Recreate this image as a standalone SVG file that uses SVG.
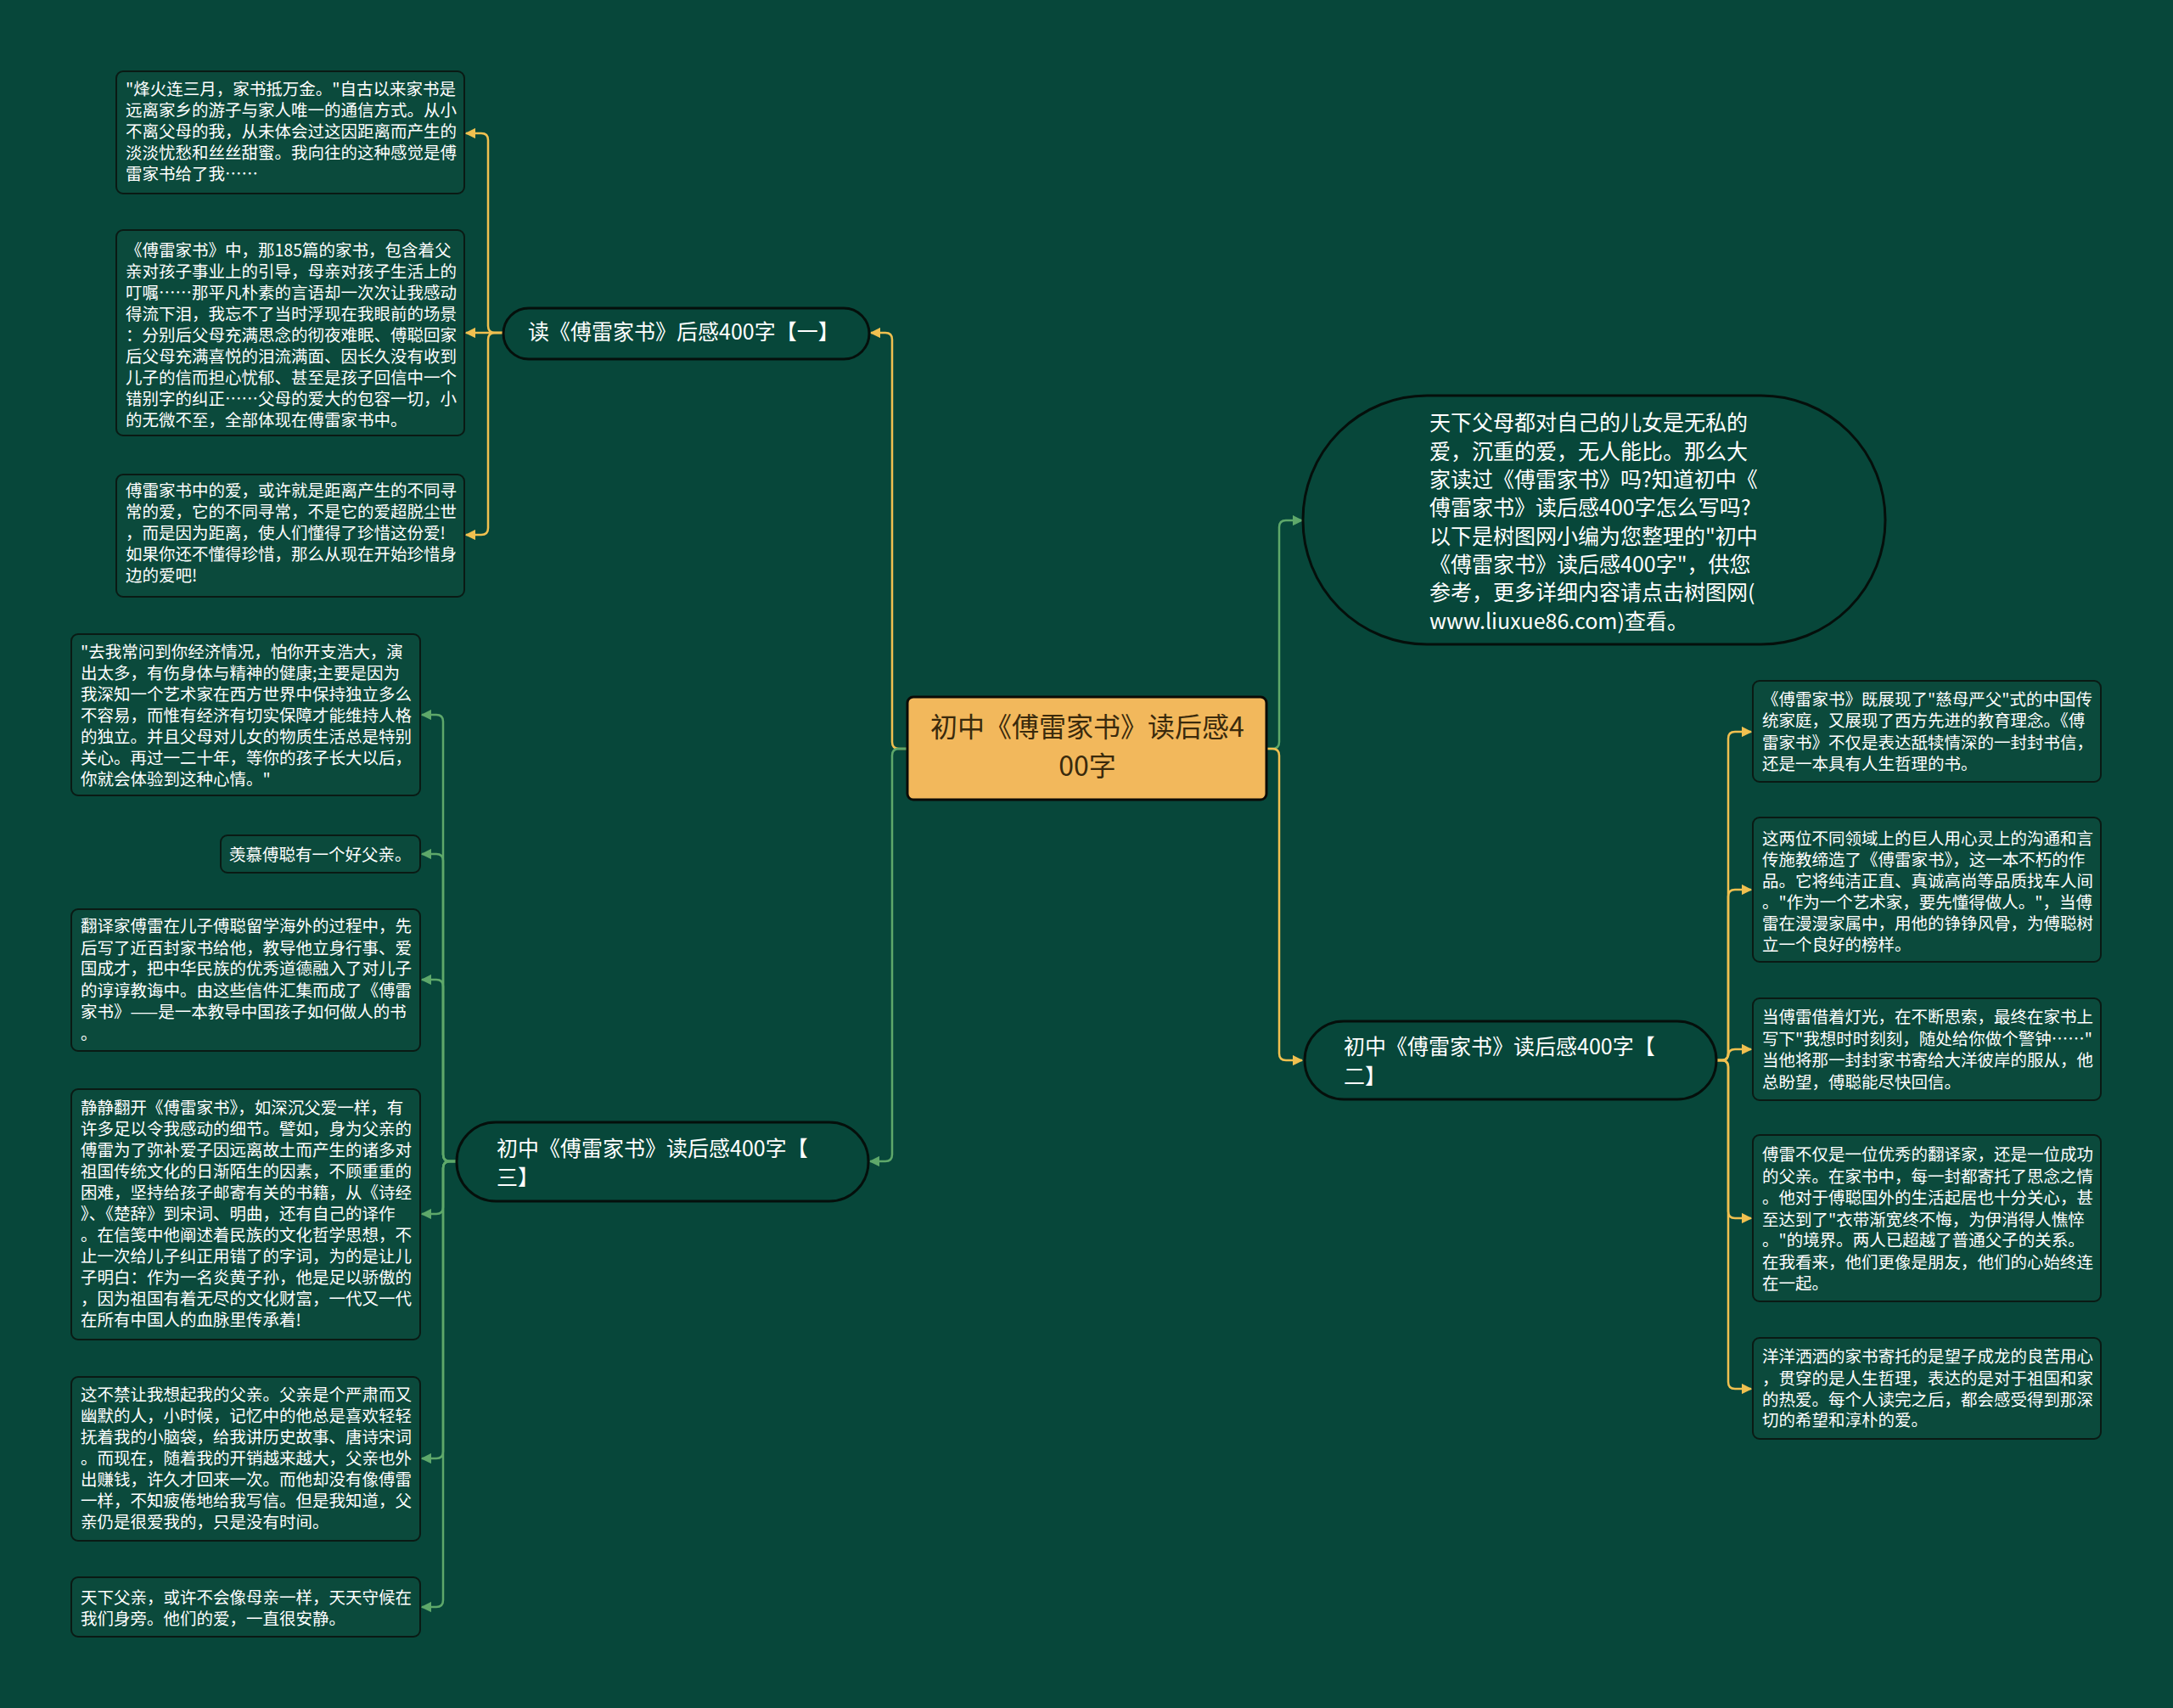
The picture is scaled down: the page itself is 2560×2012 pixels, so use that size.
<svg xmlns="http://www.w3.org/2000/svg" width="2560" height="2012" viewBox="0 0 2560 2012">
<defs>
<style>
text{font-family:"Noto Sans CJK SC","Noto Sans",sans-serif;fill:#ffffff}
.leaf{fill:#0b4a3c;stroke:#0a1a14;stroke-width:2}
.pill{fill:#07473a;stroke:#050f0b;stroke-width:3}
.lt{font-size:19.5px}
.nt{font-size:25px}
.it{font-size:25px}
.rt{font-size:32px;fill:#3a2a0c}
.cy{fill:none;stroke:#f0c050;stroke-width:2.5}
.cg{fill:none;stroke:#5ea86a;stroke-width:2.5}
</style>
<marker id="ay" viewBox="0 0 10 10" refX="9" refY="5" markerWidth="5" markerHeight="5" orient="auto"><path d="M0,0 L10,5 L0,10 z" fill="#f0c050"/></marker>
<marker id="ag" viewBox="0 0 10 10" refX="9" refY="5" markerWidth="5" markerHeight="5" orient="auto"><path d="M0,0 L10,5 L0,10 z" fill="#5ea86a"/></marker>
</defs>
<rect width="2560" height="2012" fill="#07473a"/>
<g id="connectors">
<path class="cy" marker-end="url(#ay)" d="M1068,882 H1059 Q1051,882 1051,874 V400 Q1051,392 1043,392 H1026"/>
<path class="cg" marker-end="url(#ag)" d="M1068,882 H1059 Q1051,882 1051,890 V1360 Q1051,1368 1043,1368 H1025"/>
<path class="cg" marker-end="url(#ag)" d="M1492,882 H1499 Q1507,882 1507,874 V621 Q1507,613 1515,613 H1534"/>
<path class="cy" marker-end="url(#ay)" d="M1492,882 H1499 Q1507,882 1507,890 V1241 Q1507,1249 1515,1249 H1534"/>
<path class="cy" marker-end="url(#ay)" d="M593,392 H583 Q575,392 575,384 V165 Q575,157 567,157 H549"/>
<path class="cy" marker-end="url(#ay)" d="M593,392 H549"/>
<path class="cy" marker-end="url(#ay)" d="M593,392 H583 Q575,392 575,400 V622 Q575,630 567,630 H549"/>
<path class="cy" marker-end="url(#ay)" d="M2022,1249 H2028 Q2036,1249 2036,1241 V870 Q2036,862 2044,862 H2063"/>
<path class="cy" marker-end="url(#ay)" d="M2022,1249 H2028 Q2036,1249 2036,1241 V1056 Q2036,1048 2044,1048 H2063"/>
<path class="cy" marker-end="url(#ay)" d="M2022,1249 H2028 Q2036,1249 2036,1241 V1244 Q2036,1236 2044,1236 H2063"/>
<path class="cy" marker-end="url(#ay)" d="M2022,1249 H2028 Q2036,1249 2036,1257 V1427 Q2036,1435 2044,1435 H2063"/>
<path class="cy" marker-end="url(#ay)" d="M2022,1249 H2028 Q2036,1249 2036,1257 V1628 Q2036,1636 2044,1636 H2063"/>
<path class="cg" marker-end="url(#ag)" d="M538,1368 H530 Q522,1368 522,1360 V850 Q522,842 514,842 H497"/>
<path class="cg" marker-end="url(#ag)" d="M538,1368 H530 Q522,1368 522,1360 V1014 Q522,1006 514,1006 H497"/>
<path class="cg" marker-end="url(#ag)" d="M538,1368 H530 Q522,1368 522,1360 V1162 Q522,1154 514,1154 H497"/>
<path class="cg" marker-end="url(#ag)" d="M538,1368 H530 Q522,1368 522,1376 V1422 Q522,1430 514,1430 H497"/>
<path class="cg" marker-end="url(#ag)" d="M538,1368 H530 Q522,1368 522,1376 V1710 Q522,1718 514,1718 H497"/>
<path class="cg" marker-end="url(#ag)" d="M538,1368 H530 Q522,1368 522,1376 V1885 Q522,1893 514,1893 H497"/>
</g>
<g id="root">
<rect x="1069" y="821" width="423" height="121" rx="7" fill="#f2b85c" stroke="#0a0a06" stroke-width="3"/>
<text class="rt" text-anchor="middle"><tspan x="1281" y="868">初中《傅雷家书》读后感4</tspan><tspan x="1281" y="914">00字</tspan></text>
</g>
<g id="n1">
<rect class="pill" x="593" y="363" width="431" height="60" rx="30"/>
<text class="nt" x="622" y="400">读《傅雷家书》后感400字【一】</text>
</g>
<g id="n2">
<rect class="pill" x="1535" y="466" width="686" height="293" rx="146"/>
<text class="it"><tspan x="1684" y="507">天下父母都对自己的儿女是无私的</tspan><tspan x="1684" y="541">爱，沉重的爱，无人能比。那么大</tspan><tspan x="1684" y="574">家读过《傅雷家书》吗?知道初中《</tspan><tspan x="1684" y="607">傅雷家书》读后感400字怎么写吗?</tspan><tspan x="1684" y="641">以下是树图网小编为您整理的"初中</tspan><tspan x="1684" y="674">《傅雷家书》读后感400字"，供您</tspan><tspan x="1684" y="707">参考，更多详细内容请点击树图网(</tspan><tspan x="1684" y="741">www.liuxue86.com)查看。</tspan></text>
</g>
<g id="n3">
<rect class="pill" x="1537" y="1203" width="485" height="92" rx="46"/>
<text class="nt"><tspan x="1583" y="1242">初中《傅雷家书》读后感400字【</tspan><tspan x="1583" y="1277">二】</tspan></text>
</g>
<g id="n4">
<rect class="pill" x="538" y="1322" width="485" height="93" rx="46"/>
<text class="nt"><tspan x="585" y="1362">初中《傅雷家书》读后感400字【</tspan><tspan x="585" y="1396">三】</tspan></text>
</g>
<g id="l1a">
<rect class="leaf" x="137" y="84" width="410" height="144" rx="8"/>
<text class="lt"><tspan x="148" y="112">"烽火连三月，家书抵万金。"自古以来家书是</tspan><tspan x="148" y="137">远离家乡的游子与家人唯一的通信方式。从小</tspan><tspan x="148" y="162">不离父母的我，从未体会过这因距离而产生的</tspan><tspan x="148" y="187">淡淡忧愁和丝丝甜蜜。我向往的这种感觉是傅</tspan><tspan x="148" y="212">雷家书给了我……</tspan></text>
</g>
<g id="l1b">
<rect class="leaf" x="137" y="271" width="410" height="242" rx="8"/>
<text class="lt"><tspan x="148" y="302">《傅雷家书》中，那185篇的家书，包含着父</tspan><tspan x="148" y="327">亲对孩子事业上的引导，母亲对孩子生活上的</tspan><tspan x="148" y="352">叮嘱……那平凡朴素的言语却一次次让我感动</tspan><tspan x="148" y="377">得流下泪，我忘不了当时浮现在我眼前的场景</tspan><tspan x="148" y="402">：分别后父母充满思念的彻夜难眠、傅聪回家</tspan><tspan x="148" y="427">后父母充满喜悦的泪流满面、因长久没有收到</tspan><tspan x="148" y="452">儿子的信而担心忧郁、甚至是孩子回信中一个</tspan><tspan x="148" y="477">错别字的纠正……父母的爱大的包容一切，小</tspan><tspan x="148" y="502">的无微不至，全部体现在傅雷家书中。</tspan></text>
</g>
<g id="l1c">
<rect class="leaf" x="137" y="559" width="410" height="144" rx="8"/>
<text class="lt"><tspan x="148" y="585">傅雷家书中的爱，或许就是距离产生的不同寻</tspan><tspan x="148" y="610">常的爱，它的不同寻常，不是它的爱超脱尘世</tspan><tspan x="148" y="635">，而是因为距离，使人们懂得了珍惜这份爱!</tspan><tspan x="148" y="660">如果你还不懂得珍惜，那么从现在开始珍惜身</tspan><tspan x="148" y="685">边的爱吧!</tspan></text>
</g>
<g id="r1">
<rect class="leaf" x="2065" y="802" width="410" height="119" rx="8"/>
<text class="lt"><tspan x="2076" y="831">《傅雷家书》既展现了"慈母严父"式的中国传</tspan><tspan x="2076" y="856">统家庭，又展现了西方先进的教育理念。《傅</tspan><tspan x="2076" y="882">雷家书》不仅是表达舐犊情深的一封封书信，</tspan><tspan x="2076" y="907">还是一本具有人生哲理的书。</tspan></text>
</g>
<g id="r2">
<rect class="leaf" x="2065" y="963" width="410" height="170" rx="8"/>
<text class="lt"><tspan x="2076" y="995">这两位不同领域上的巨人用心灵上的沟通和言</tspan><tspan x="2076" y="1020">传施教缔造了《傅雷家书》，这一本不朽的作</tspan><tspan x="2076" y="1045">品。它将纯洁正直、真诚高尚等品质找车人间</tspan><tspan x="2076" y="1070">。"作为一个艺术家，要先懂得做人。"，当傅</tspan><tspan x="2076" y="1095">雷在漫漫家属中，用他的铮铮风骨，为傅聪树</tspan><tspan x="2076" y="1120">立一个良好的榜样。</tspan></text>
</g>
<g id="r3">
<rect class="leaf" x="2065" y="1176" width="410" height="120" rx="8"/>
<text class="lt"><tspan x="2076" y="1205">当傅雷借着灯光，在不断思索，最终在家书上</tspan><tspan x="2076" y="1231">写下"我想时时刻刻，随处给你做个警钟……"</tspan><tspan x="2076" y="1256">当他将那一封封家书寄给大洋彼岸的服从，他</tspan><tspan x="2076" y="1282">总盼望，傅聪能尽快回信。</tspan></text>
</g>
<g id="r4">
<rect class="leaf" x="2065" y="1337" width="410" height="196" rx="8"/>
<text class="lt"><tspan x="2076" y="1367">傅雷不仅是一位优秀的翻译家，还是一位成功</tspan><tspan x="2076" y="1393">的父亲。在家书中，每一封都寄托了思念之情</tspan><tspan x="2076" y="1418">。他对于傅聪国外的生活起居也十分关心，甚</tspan><tspan x="2076" y="1444">至达到了"衣带渐宽终不悔，为伊消得人憔悴</tspan><tspan x="2076" y="1468">。"的境界。两人已超越了普通父子的关系。</tspan><tspan x="2076" y="1494">在我看来，他们更像是朋友，他们的心始终连</tspan><tspan x="2076" y="1519">在一起。</tspan></text>
</g>
<g id="r5">
<rect class="leaf" x="2065" y="1576" width="410" height="119" rx="8"/>
<text class="lt"><tspan x="2076" y="1605">洋洋洒洒的家书寄托的是望子成龙的良苦用心</tspan><tspan x="2076" y="1631">，贯穿的是人生哲理，表达的是对于祖国和家</tspan><tspan x="2076" y="1656">的热爱。每个人读完之后，都会感受得到那深</tspan><tspan x="2076" y="1680">切的希望和淳朴的爱。</tspan></text>
</g>
<g id="ll1">
<rect class="leaf" x="84" y="747" width="411" height="190" rx="8"/>
<text class="lt"><tspan x="95" y="775">"去我常问到你经济情况，怕你开支浩大，演</tspan><tspan x="95" y="800">出太多，有伤身体与精神的健康;主要是因为</tspan><tspan x="95" y="825">我深知一个艺术家在西方世界中保持独立多么</tspan><tspan x="95" y="850">不容易，而惟有经济有切实保障才能维持人格</tspan><tspan x="95" y="875">的独立。并且父母对儿女的物质生活总是特别</tspan><tspan x="95" y="900">关心。再过一二十年，等你的孩子长大以后，</tspan><tspan x="95" y="925">你就会体验到这种心情。"</tspan></text>
</g>
<g id="ll2">
<rect class="leaf" x="260" y="984" width="235" height="44" rx="8"/>
<text class="lt" x="270" y="1014">羡慕傅聪有一个好父亲。</text>
</g>
<g id="ll3">
<rect class="leaf" x="84" y="1071" width="411" height="167" rx="8"/>
<text class="lt"><tspan x="95" y="1098">翻译家傅雷在儿子傅聪留学海外的过程中，先</tspan><tspan x="95" y="1124">后写了近百封家书给他，教导他立身行事、爱</tspan><tspan x="95" y="1148">国成才，把中华民族的优秀道德融入了对儿子</tspan><tspan x="95" y="1174">的谆谆教诲中。由这些信件汇集而成了《傅雷</tspan><tspan x="95" y="1199">家书》——是一本教导中国孩子如何做人的书</tspan><tspan x="95" y="1225">。</tspan></text>
</g>
<g id="ll4">
<rect class="leaf" x="84" y="1283" width="411" height="295" rx="8"/>
<text class="lt"><tspan x="95" y="1312">静静翻开《傅雷家书》，如深沉父爱一样，有</tspan><tspan x="95" y="1337">许多足以令我感动的细节。譬如，身为父亲的</tspan><tspan x="95" y="1362">傅雷为了弥补爱子因远离故土而产生的诸多对</tspan><tspan x="95" y="1387">祖国传统文化的日渐陌生的因素，不顾重重的</tspan><tspan x="95" y="1412">困难，坚持给孩子邮寄有关的书籍，从《诗经</tspan><tspan x="95" y="1437">》、《楚辞》到宋词、明曲，还有自己的译作</tspan><tspan x="95" y="1462">。在信笺中他阐述着民族的文化哲学思想，不</tspan><tspan x="95" y="1487">止一次给儿子纠正用错了的字词，为的是让儿</tspan><tspan x="95" y="1512">子明白：作为一名炎黄子孙，他是足以骄傲的</tspan><tspan x="95" y="1537">，因为祖国有着无尽的文化财富，一代又一代</tspan><tspan x="95" y="1562">在所有中国人的血脉里传承着!</tspan></text>
</g>
<g id="ll5">
<rect class="leaf" x="84" y="1622" width="411" height="193" rx="8"/>
<text class="lt"><tspan x="95" y="1650">这不禁让我想起我的父亲。父亲是个严肃而又</tspan><tspan x="95" y="1675">幽默的人，小时候，记忆中的他总是喜欢轻轻</tspan><tspan x="95" y="1700">抚着我的小脑袋，给我讲历史故事、唐诗宋词</tspan><tspan x="95" y="1725">。而现在，随着我的开销越来越大，父亲也外</tspan><tspan x="95" y="1750">出赚钱，许久才回来一次。而他却没有像傅雷</tspan><tspan x="95" y="1775">一样，不知疲倦地给我写信。但是我知道，父</tspan><tspan x="95" y="1800">亲仍是很爱我的，只是没有时间。</tspan></text>
</g>
<g id="ll6">
<rect class="leaf" x="84" y="1858" width="411" height="70" rx="8"/>
<text class="lt"><tspan x="95" y="1889">天下父亲，或许不会像母亲一样，天天守候在</tspan><tspan x="95" y="1914">我们身旁。他们的爱，一直很安静。</tspan></text>
</g>
</svg>
